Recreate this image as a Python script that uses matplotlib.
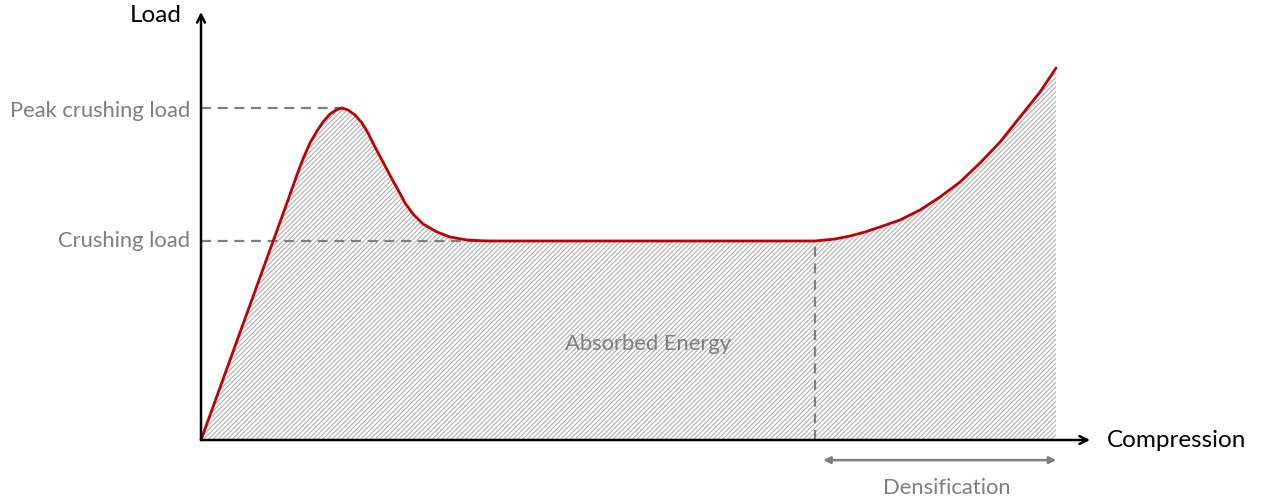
import matplotlib
matplotlib.use("Agg")
import matplotlib.pyplot as plt

# ---- data (arbitrary units) ----
compression = [0.0, 9.79, 10.35, 10.91, 11.47, 12.26, 13.05, 13.72, 14.51, 15.30,
               15.86, 16.54, 17.32, 18.11, 18.79, 19.57, 20.47, 21.48, 22.05,
               22.95, 23.85, 24.97, 26.55, 28.01, 29.92, 32.17, 69.07, 71.32,
               73.00, 74.69, 76.38, 78.63, 80.88, 83.13, 85.38, 87.63, 89.88,
               92.13, 94.38, 96.18]
load = [0.0, 56.07, 59.35, 62.62, 65.65, 69.39, 72.20, 74.30, 76.17, 77.22,
        77.57, 77.10, 75.93, 74.07, 71.73, 68.46, 64.95, 60.98, 58.88,
        55.37, 52.80, 50.47, 48.60, 47.43, 46.73, 46.50, 46.50, 46.96,
        47.66, 48.60, 49.77, 51.40, 53.74, 56.78, 60.28, 64.72, 69.63,
        75.47, 81.31, 86.92]
peak_load = 77.57
peak_position = 15.86
crushing_load = 46.50
densification_start = 69.07
densification_arrow = [70.0, 96.2]
axis_max = [100.0, 100.0]
labels = {"peak": "Peak crushing load", "crush": "Crushing load",
          "energy": "Absorbed Energy", "dens": "Densification",
          "x": "Compression", "y": "Load"}

FONT = ["Lato", "DejaVu Sans"]
GRAY = "#7f7f7f"

fig = plt.figure(figsize=(12.69, 5.01), dpi=100)
ax = fig.add_axes([0, 0, 1, 1])
ax.set_xlim(-22.61, 120.13)
ax.set_ylim(-14.25, 102.8)
ax.axis("off")

plt.rcParams["hatch.linewidth"] = 0.75
ax.fill_between(compression, 0, load, facecolor="white", edgecolor="#ababab",
                hatch="///////", linewidth=0, zorder=1)
ax.plot(compression, load, color="#c00000", lw=2.0, zorder=4,
        solid_joinstyle="round", solid_capstyle="round")

dash = dict(color=GRAY, lw=1.6, dashes=(4.5, 3), zorder=3)
ax.plot([0, peak_position], [peak_load, peak_load], **dash)
ax.plot([0, 33.0], [crushing_load, crushing_load], **dash)
ax.plot([densification_start, densification_start], [0, crushing_load], **dash)

# axes arrows
ax.annotate("", xy=(axis_max[0], 0), xytext=(0, 0),
            arrowprops=dict(arrowstyle="->", lw=1.8, color="black",
                            mutation_scale=14, shrinkA=0, shrinkB=0), zorder=5)
ax.annotate("", xy=(0, axis_max[1]), xytext=(0, 0),
            arrowprops=dict(arrowstyle="->", lw=1.8, color="black",
                            mutation_scale=14, shrinkA=0, shrinkB=0), zorder=5)

# densification double arrow
ax.annotate("", xy=(densification_arrow[1], -4.7), xytext=(densification_arrow[0], -4.7),
            arrowprops=dict(arrowstyle="<|-|>", lw=1.8, color=GRAY,
                            mutation_scale=10, shrinkA=0, shrinkB=0))

ax.text(-1.2, peak_load - 0.6, labels["peak"], ha="right", va="center",
        fontsize=15.8, color=GRAY, family=FONT)
ax.text(-1.2, crushing_load, labels["crush"], ha="right", va="center",
        fontsize=15.8, color=GRAY, family=FONT)
ax.text(50.3, 22.5, labels["energy"], ha="center", va="center",
        fontsize=15.8, color=GRAY, family=FONT, zorder=6)
ax.text(83.9, -11.3, labels["dens"], ha="center", va="center",
        fontsize=15.8, color=GRAY, family=FONT)
ax.text(101.9, 0, labels["x"], ha="left", va="center",
        fontsize=17.5, color="black", family=FONT)
ax.text(-2.2, 99.2, labels["y"], ha="right", va="center",
        fontsize=17.5, color="black", family=FONT)

fig.savefig("out.png", dpi=100)
